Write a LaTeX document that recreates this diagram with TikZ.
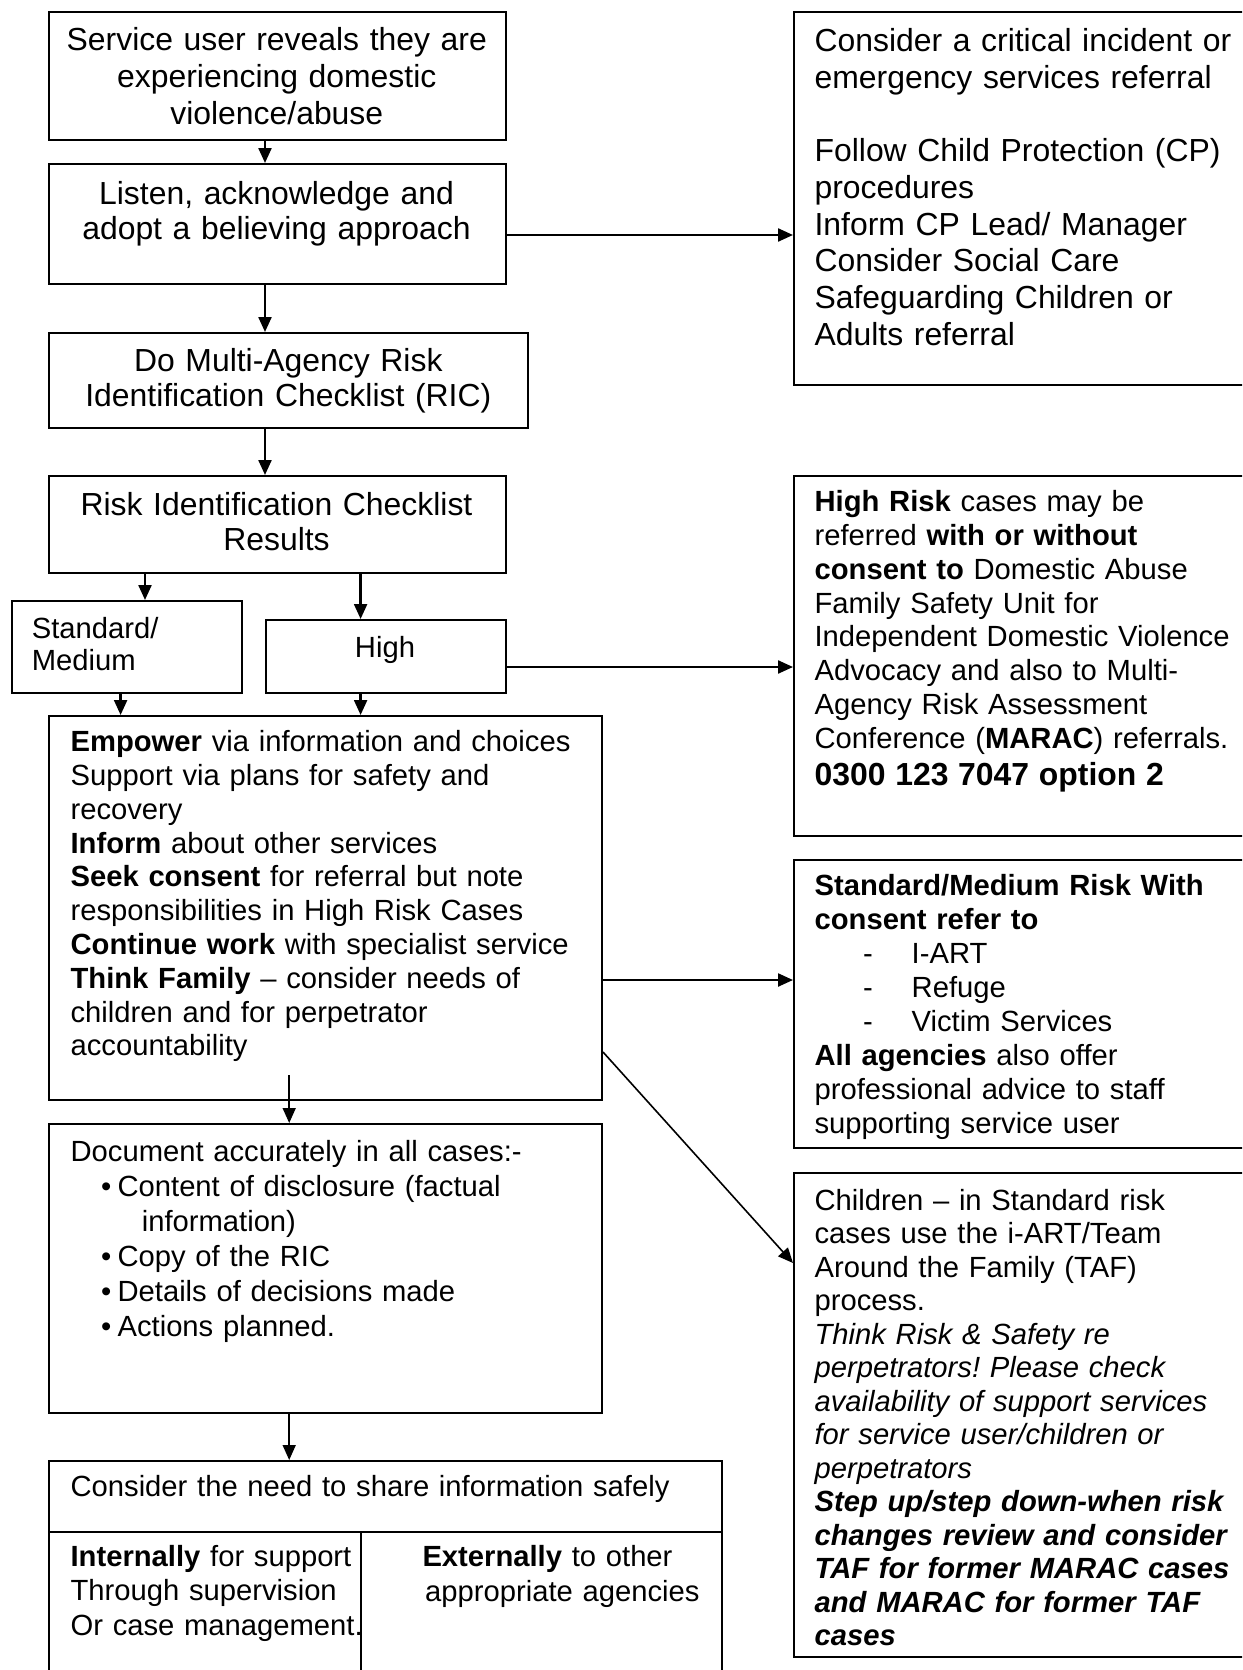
\documentclass[tikz,border=0pt]{standalone}
\usepackage{fontspec}
\setmainfont{Liberation Sans}
\usetikzlibrary{arrows.meta}
\frenchspacing
\hyphenpenalty=10000
\exhyphenpenalty=10000
\begin{document}
\begin{tikzpicture}[x=1pt,y=-1pt,
  box/.style={draw, line width=2pt, rectangle, inner sep=0pt, anchor=north west},
  divline/.style={line width=2pt},
  arr/.style={line width=2.3pt, -{Triangle[length=15pt,width=13pt]}},
  thinarr/.style={line width=1.6pt, -{Triangle[length=15pt,width=13pt]}},
  big/.style={font=\fontsize{31.9}{36.7}\selectfont},
  small/.style={font=\fontsize{29.2}{33.8}\selectfont},
  txt/.style={inner sep=0pt, anchor=base west, align=left, text width=#1},
  ctxt/.style={inner sep=0pt, anchor=base, align=center, text width=#1},
]
\useasboundingbox (0,0) rectangle (1242,1670);
\clip (0,0) rectangle (1242,1670);

% ---------- boxes ----------
\node[box, minimum width=457pt, minimum height=128pt] (b1) at (48,11) {};
\node[box, minimum width=457pt, minimum height=120pt] (b2) at (48,163) {};
\node[box, minimum width=479pt, minimum height=95pt]  (b3) at (48,332) {};
\node[box, minimum width=457pt, minimum height=97pt]  (b4) at (48,475) {};
\node[box, minimum width=230pt, minimum height=92pt]  (b5) at (11,600) {};
\node[box, minimum width=240pt, minimum height=73pt]  (b6) at (265,619) {};
\node[box, minimum width=553pt, minimum height=384pt] (b7) at (48,715) {};
\node[box, minimum width=553pt, minimum height=289pt] (b8) at (48,1123) {};
\node[box, minimum width=673pt, minimum height=240pt] (b9) at (48,1460) {};
\node[box, minimum width=470pt, minimum height=373pt] (r1) at (793,11) {};
\node[box, minimum width=470pt, minimum height=360pt] (r2) at (793,475) {};
\node[box, minimum width=470pt, minimum height=288pt] (r3) at (793,859) {};
\node[box, minimum width=470pt, minimum height=484pt] (r4) at (793,1172) {};

% divider lines of the last box
\coordinate (div) at (360.6,1532);
\draw[divline] (b9.west |- div) -- (b9.east |- div);
\draw[divline] (div) -- (div |- b9.south);

% ---------- texts ----------
\node[ctxt=450pt, big] (t1) at (276.8,50.7) {Service user reveals they are\\experiencing domestic\\violence/abuse};
\node[ctxt=450pt, big, font=\fontsize{31.9}{35.3}\selectfont] (t2) at (276.5,204) {Listen, acknowledge and\\adopt a believing approach};
\node[ctxt=470pt, big, font=\fontsize{31.9}{35}\selectfont] (t3) at (288.3,371.7) {Do Multi-Agency Risk\\Identification Checklist (RIC)};
\node[ctxt=450pt, big, font=\fontsize{31.9}{35}\selectfont] (t4) at (276.5,515) {Risk Identification Checklist\\Results};
\node[txt=200pt, small, font=\fontsize{29.2}{32.4}\selectfont] (t5) at (31.6,638.3) {Standard/\\Medium};
\node[ctxt=200pt, small] (t6) at (385,657) {High};

\node[txt=530pt, small] (t7) at (70.4,751.7) {\textbf{Empower} via information and choices\\
Support via plans for safety and\\
recovery\\
\textbf{Inform} about other services\\
\textbf{Seek consent} for referral but note\\
responsibilities in High Risk Cases\\
\textbf{Continue work} with specialist service\\
\textbf{Think Family} – consider needs of\\
children and for perpetrator\\
accountability};

\node[txt=530pt, small, font=\fontsize{29.2}{35}\selectfont] (t8) at (70.4,1161.7) {Document accurately in all cases:-\\
\hspace*{30.4pt}\makebox[16.6pt][l]{•}Content of disclosure (factual\\
\hspace*{71.2pt}information)\\
\hspace*{30.4pt}\makebox[16.6pt][l]{•}Copy of the RIC\\
\hspace*{30.4pt}\makebox[16.6pt][l]{•}Details of decisions made\\
\hspace*{30.4pt}\makebox[16.6pt][l]{•}Actions planned.};

\node[txt=640pt, small] (t9) at (70.4,1496.7) {Consider the need to share information safely};
\node[txt=400pt, small, font=\fontsize{29.2}{34.2}\selectfont] (t9a) at (70.4,1566.7) {\textbf{Internally} for support\\Through supervision\\Or case management.};
\node[txt=300pt, small, font=\fontsize{29.2}{35}\selectfont] (t9b) at (422.3,1566.7) {\textbf{Externally} to other\\\hspace*{2.7pt}appropriate agencies};

\node[txt=430pt, big] (tr1) at (814.4,51.7) {Consider a critical incident or\\
emergency services referral\\[36.7pt]
Follow Child Protection (CP)\\
procedures\\
Inform CP Lead/ Manager\\
Consider Social Care\\
Safeguarding Children or\\
Adults referral};

\node[txt=430pt, small] (tr2) at (814.4,511.7) {\textbf{High Risk} cases may be\\
referred \textbf{with or without}\\
\textbf{consent to} Domestic Abuse\\
Family Safety Unit for\\
Independent Domestic Violence\\
Advocacy and also to Multi-\\
Agency Risk Assessment\\
Conference (\textbf{MARAC}) referrals.\\[2.9pt]
{\fontsize{31.9}{36.7}\selectfont\textbf{0300 123 7047 option 2}}};

\node[txt=430pt, small, font=\fontsize{29.2}{34}\selectfont] (tr3) at (814.4,895) {\textbf{Standard/Medium Risk With}\\
\textbf{consent refer to}\\
\hspace*{48.4pt}\makebox[48.7pt][l]{-}I-ART\\
\hspace*{48.4pt}\makebox[48.7pt][l]{-}Refuge\\
\hspace*{48.4pt}\makebox[48.7pt][l]{-}Victim Services\\
\textbf{All agencies} also offer\\
professional advice to staff\\
supporting service user};

\node[txt=430pt, small, font=\fontsize{29.2}{33.5}\selectfont] (tr4) at (814.4,1210) {Children – in Standard risk\\
cases use the i-ART/Team\\
Around the Family (TAF)\\
process.\\
\textit{Think Risk \& Safety re}\\
\textit{perpetrators! Please check}\\
\textit{availability of support services}\\
\textit{for service user/children or}\\
\textit{perpetrators}\\
\textbf{\textit{Step up/step down-when risk}}\\
\textbf{\textit{changes review and consider}}\\
\textbf{\textit{TAF for former MARAC cases}}\\
\textbf{\textit{and MARAC for former TAF}}\\
\textbf{\textit{cases}}};

% ---------- connector helper coordinates ----------
\coordinate (colA) at (265,0);
\coordinate (colB) at (145,0);
\coordinate (colC) at (360.6,0);
\coordinate (colD) at (120.6,0);
\coordinate (colE) at (289.2,0);
\coordinate (rowA) at (0,235);
\coordinate (rowB) at (0,667);
\coordinate (rowC) at (0,980);
\coordinate (rowD) at (0,1052);
\coordinate (rowE) at (0,1263);
\coordinate (inner) at (289.2,1075);

% ---------- connectors ----------
\draw[arr] (b1.south -| colA) -- (b2.north -| colA);
\draw[arr] (b2.south -| colA) -- (b3.north -| colA);
\draw[arr] (b3.south -| colA) -- (b4.north -| colA);
\draw[arr] (b4.south -| colB) -- (b5.north -| colB);
\draw[arr] (b4.south -| colC) -- (b6.north -| colC);
\draw[arr] (b5.south -| colD) -- (b7.north -| colD);
\draw[arr] (b6.south -| colC) -- (b7.north -| colC);
\draw[arr] (b2.east |- rowA) -- (r1.west |- rowA);
\draw[arr] (b6.east |- rowB) -- (r2.west |- rowB);
\draw[arr] (b7.east |- rowC) -- (r3.west |- rowC);
\draw[thinarr] (b7.east |- rowD) -- (r4.west |- rowE);
\draw[thinarr] (inner) -- (b8.north -| colE);
\draw[thinarr] (b8.south -| colE) -- (b9.north -| colE);
\end{tikzpicture}
\end{document}
